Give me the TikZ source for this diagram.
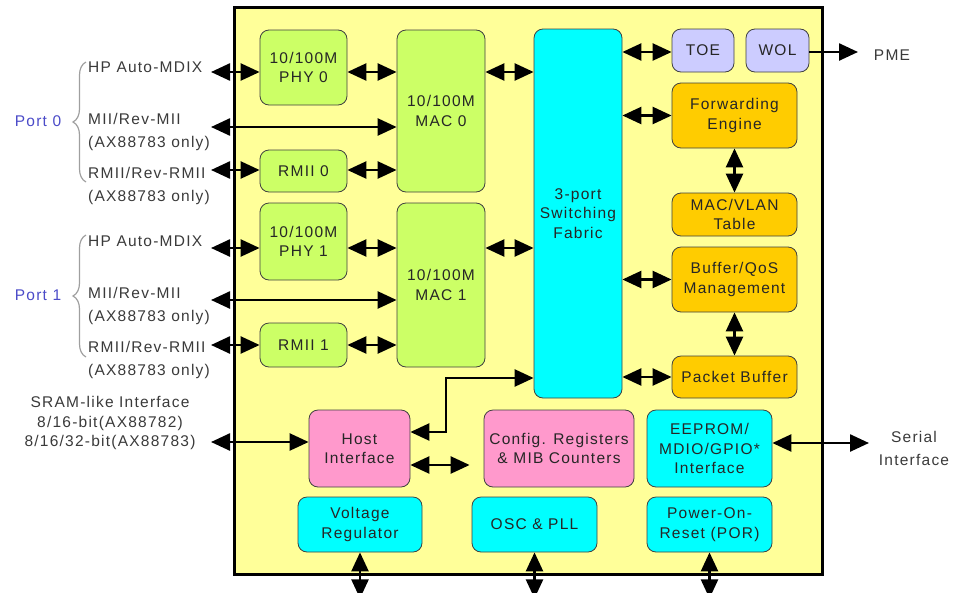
\documentclass[tikz,border=0pt]{standalone}
\usepackage{fontspec}
\setmainfont{Liberation Sans}[LetterSpace=8]
\usetikzlibrary{arrows.meta,decorations.pathreplacing}

\definecolor{chipyel}{HTML}{FFFF99}
\definecolor{macgrn}{HTML}{CCFF66}
\definecolor{fabcyan}{HTML}{00FFFF}
\definecolor{toelav}{HTML}{CCCCFF}
\definecolor{fwdorg}{HTML}{FFCC00}
\definecolor{hostpnk}{HTML}{FF99CC}
\definecolor{portblue}{HTML}{4B4BC8}
\definecolor{txtgray}{HTML}{3A3A3A}

\tikzset{
    chip/.style={draw=black, line width=3pt, fill=chipyel},
    blk/.style={draw=black!75, line width=0.8pt, rounded corners=9pt, align=center,
        text=black!85, inner sep=0pt, font=\fontsize{15.5}{19.5}\selectfont},
    grn/.style={blk, fill=macgrn},
    cyn/.style={blk, fill=fabcyan},
    lav/.style={blk, fill=toelav},
    org/.style={blk, fill=fwdorg},
    pnk/.style={blk, fill=hostpnk},
    lbl/.style={text=txtgray, inner sep=0pt, font=\fontsize{15.5}{23}\selectfont},
    tip/.tip={Triangle[length=19pt,width=17pt]},
    dbl/.style={tip-tip, line width=2.5pt},
    sgl/.style={-tip, line width=2.5pt},
    brc/.style={decorate, decoration={brace, amplitude=13pt}, draw=gray!75, line width=1.2pt}
}

\begin{document}
\begin{tikzpicture}[x=1pt, y=-1pt]
    \useasboundingbox (0,0) rectangle (953,592);

    % chip outline
    \node[chip, minimum width=588pt, minimum height=567pt](chip) at (528,290.5) {};

    % port blocks
    \node[grn, minimum width=87pt, minimum height=75pt](PHY0)  at (303.5,67.5) {10/100M\\PHY 0};
    \node[grn, minimum width=87pt, minimum height=42pt](RMII0) at (303.5,171)  {RMII 0};
    \node[grn, minimum width=88pt, minimum height=162pt](MAC0) at (441,111)    {10/100M\\MAC 0};
    \node[grn, minimum width=87pt, minimum height=77pt](PHY1)  at (303.5,241.5) {10/100M\\PHY 1};
    \node[grn, minimum width=87pt, minimum height=44pt](RMII1) at (303.5,345)  {RMII 1};
    \node[grn, minimum width=88pt, minimum height=164pt](MAC1) at (441,285)    {10/100M\\MAC 1};

    % switch core
    \node[cyn, minimum width=88pt, minimum height=369pt](FAB) at (578,213.5) {3-port\\Switching\\Fabric};
    \node[lav, minimum width=62pt, minimum height=43pt](TOE)  at (703,50.5)   {TOE};
    \node[lav, minimum width=63pt, minimum height=43pt](WOL)  at (777.5,50.5) {WOL};
    \node[org, minimum width=125pt, minimum height=65pt](FWD) at (734.5,115.5) {Forwarding\\Engine};
    \node[org, minimum width=125pt, minimum height=43pt](VLAN) at (734.5,214.5) {MAC/VLAN\\Table};
    \node[org, minimum width=125pt, minimum height=65pt](QOS) at (734.5,279.5) {Buffer/QoS\\Management};
    \node[org, minimum width=125pt, minimum height=42pt](PKT) at (734.5,377)  {Packet Buffer};

    % host side and misc
    \node[pnk, minimum width=101pt, minimum height=77pt](HOST) at (359.5,448.5) {Host\\Interface};
    \node[pnk, minimum width=150pt, minimum height=77pt](CFG)  at (559,448.5)   {Config. Registers\\\& MIB Counters};
    \node[cyn, minimum width=125pt, minimum height=77pt](EEP)  at (709.5,448.5) {EEPROM/\\MDIO/GPIO*\\Interface};
    \node[cyn, minimum width=124pt, minimum height=55pt](VREG) at (360,524.5)   {Voltage\\Regulator};
    \node[cyn, minimum width=125pt, minimum height=55pt](OSC)  at (534.5,524.5) {OSC \& PLL};
    \node[cyn, minimum width=125pt, minimum height=55pt](POR)  at (709.5,524.5) {Power-On-\\Reset (POR)};

    % outside labels
    \node[lbl, text=portblue](port0) at (38,121) {Port 0};
    \node[lbl, text=portblue](port1) at (38,295) {Port 1};
    \node[lbl, anchor=west](l0hp)   at (88,67)  {HP Auto-MDIX};
    \node[lbl, anchor=west, align=left](l0mii)  at (88,132) {MII/Rev-MII\\(AX88783 only)};
    \node[lbl, anchor=west, align=left](l0rmii) at (88,186) {RMII/Rev-RMII\\(AX88783 only)};
    \node[lbl, anchor=west](l1hp)   at (88,241) {HP Auto-MDIX};
    \node[lbl, anchor=west, align=left](l1mii)  at (88,306) {MII/Rev-MII\\(AX88783 only)};
    \node[lbl, anchor=west, align=left](l1rmii) at (88,360) {RMII/Rev-RMII\\(AX88783 only)};
    \node[lbl, align=center, font=\fontsize{15.5}{19.5}\selectfont](lsram) at (110,423) {SRAM-like Interface\\8/16-bit(AX88782)\\8/16/32-bit(AX88783)};
    \node[lbl, align=center](lser) at (914,448) {Serial\\Interface};
    \node[lbl](lpme) at (892,55) {PME};

    % braces
    \coordinate (b0t) at (86,62);
    \coordinate (b0b) at (86,182);
    \coordinate (b1t) at (86,235);
    \coordinate (b1b) at (86,357);
    \draw[brc] (b0b) -- (b0t);
    \draw[brc] (b1b) -- (b1t);

    % free ends
    \coordinate (p0hp)   at (211,72);
    \coordinate (p0mii)  at (211,127);
    \coordinate (p0rmii) at (211,170);
    \coordinate (p1hp)   at (211,248);
    \coordinate (p1mii)  at (211,300);
    \coordinate (p1rmii) at (211,345);
    \coordinate (sram)   at (211,442);
    \coordinate (ser)    at (869,443);
    \coordinate (pme)    at (858,52);
    \coordinate (hbend)  at (446,378);

    % port 0
    \draw[dbl] (p0hp) -- (p0hp -| PHY0.west);
    \draw[dbl] (p0mii) -- (p0mii -| MAC0.west);
    \draw[dbl] (p0rmii) -- (p0rmii -| RMII0.west);
    \draw[dbl] (p0hp -| PHY0.east) -- (p0hp -| MAC0.west);
    \draw[dbl] (p0rmii -| RMII0.east) -- (p0rmii -| MAC0.west);
    \draw[dbl] (p0hp -| MAC0.east) -- (p0hp -| FAB.west);

    % port 1
    \draw[dbl] (p1hp) -- (p1hp -| PHY1.west);
    \draw[dbl] (p1mii) -- (p1mii -| MAC1.west);
    \draw[dbl] (p1rmii) -- (p1rmii -| RMII1.west);
    \draw[dbl] (p1hp -| PHY1.east) -- (p1hp -| MAC1.west);
    \draw[dbl] (p1rmii -| RMII1.east) -- (p1rmii -| MAC1.west);
    \draw[dbl] (p1hp -| MAC1.east) -- (p1hp -| FAB.west);

    % fabric to right side
    \draw[dbl] (pme -| FAB.east) -- (pme -| TOE.west);
    \draw[sgl] (pme -| WOL.east) -- (pme);
    \draw[dbl] (FAB.east |- FWD.west) -- (FWD.west);
    \draw[dbl] (FAB.east |- QOS.west) -- (QOS.west);
    \draw[dbl] (FAB.east |- PKT.west) -- (PKT.west);
    \draw[dbl] (FWD.south) -- (VLAN.north);
    \draw[dbl] (QOS.south) -- (PKT.north);

    % host side
    \draw[dbl] (sram) -- (sram -| HOST.west);
    \draw[dbl] ([yshift=16.5pt]HOST.east) -| (hbend) -- (hbend -| FAB.west);
    \draw[dbl, shorten >=14pt] ([yshift=-16.5pt]HOST.east) -- ([yshift=-16.5pt]HOST.east -| CFG.west);
    \draw[dbl] (ser -| EEP.east) -- (ser);

    % pins at the bottom
    \draw[dbl] (VREG.south) -- ++(0,46);
    \draw[dbl] (OSC.south) -- ++(0,46);
    \draw[dbl] (POR.south) -- ++(0,46);
\end{tikzpicture}
\end{document}
